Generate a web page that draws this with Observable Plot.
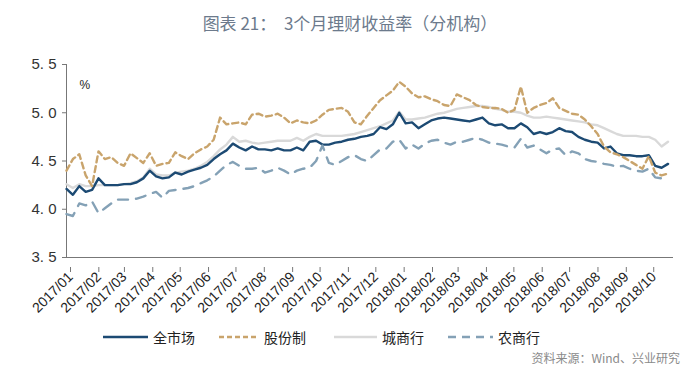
<!DOCTYPE html>
<html><head><meta charset="utf-8">
<script src="https://cdn.jsdelivr.net/npm/d3@7"></script>
<script src="https://cdn.jsdelivr.net/npm/@observablehq/plot@0.6"></script>
<style>
body{margin:0;background:#fff;width:700px;height:379px;position:relative;overflow:hidden;font-family:"Liberation Sans",Arial,sans-serif;}
#title{position:absolute;top:10px;left:0;width:700px;text-align:center;font-family:"Noto Sans CJK SC",sans-serif;font-size:17px;color:#6c7a8c;}
#chart{position:absolute;top:40px;left:0;}
.leg{position:absolute;top:328px;height:18px;display:flex;align-items:center;font-family:"Noto Sans CJK SC",sans-serif;font-size:14px;color:#222;}
#source{position:absolute;top:349px;right:20px;font-family:"Noto Sans CJK SC",sans-serif;font-size:12px;color:#8a8a8a;}
</style></head>
<body>
<div id="title">图表 21：&nbsp; 3个月理财收益率（分机构）</div>
<div id="chart"></div>
<div id="legend"></div>
<div id="source">资料来源：Wind、兴业研究</div>
<script>
const seriesNames = ["全市场", "股份制", "城商行", "农商行"];
const monthLabels = ["2017/01","2017/02","2017/03","2017/04","2017/05","2017/06","2017/07","2017/08","2017/09","2017/10","2017/11","2017/12","2018/01","2018/02","2018/03","2018/04","2018/05","2018/06","2018/07","2018/08","2018/09","2018/10"];
const yTicks = [3.5, 4.0, 4.5, 5.0, 5.5];
const firstWeek = "2017-01-01";
const lastDay = "2018-10-27";

// weekly values
const allMarket = [4.21,4.15,4.24,4.18,4.20,4.32,4.25,4.25,4.25,4.26,4.26,4.28,4.32,4.40,4.34,4.32,4.33,4.38,4.36,4.39,
  4.41,4.43,4.46,4.52,4.57,4.61,4.68,4.64,4.61,4.65,4.62,4.62,4.61,4.63,4.61,4.61,4.64,4.61,4.70,4.71,
  4.67,4.67,4.69,4.70,4.72,4.73,4.75,4.76,4.78,4.85,4.83,4.88,5.00,4.89,4.90,4.84,4.88,4.92,4.94,4.95,
  4.94,4.93,4.92,4.91,4.93,4.95,4.89,4.87,4.88,4.84,4.84,4.89,4.85,4.78,4.80,4.78,4.80,4.84,4.81,4.80,
  4.75,4.72,4.70,4.69,4.63,4.65,4.58,4.56,4.56,4.55,4.55,4.56,4.45,4.43,4.47];
const jointStock = [4.40,4.52,4.57,4.35,4.24,4.60,4.52,4.54,4.48,4.45,4.58,4.53,4.48,4.58,4.45,4.47,4.48,4.59,4.55,4.52,
  4.58,4.62,4.65,4.72,4.95,4.88,4.89,4.90,4.88,4.98,4.99,4.96,4.97,4.99,4.95,4.89,4.92,4.90,4.89,4.92,
  4.98,5.03,5.04,5.05,5.01,4.90,4.88,4.97,5.05,5.13,5.18,5.23,5.32,5.27,5.20,5.16,5.17,5.14,5.12,5.08,
  5.07,5.19,5.16,5.13,5.08,5.06,5.05,5.05,5.04,5.00,5.03,5.27,5.00,5.05,5.08,5.10,5.15,5.05,5.02,4.99,
  4.98,4.93,4.86,4.78,4.65,4.59,4.57,4.54,4.50,4.46,4.42,4.55,4.38,4.35,4.37];
const cityBank = [4.26,4.22,4.26,4.24,4.24,4.25,4.25,4.25,4.25,4.26,4.27,4.29,4.33,4.42,4.36,4.35,4.35,4.38,4.39,4.40,
  4.42,4.45,4.49,4.55,4.62,4.67,4.75,4.70,4.71,4.69,4.68,4.69,4.70,4.71,4.71,4.71,4.74,4.71,4.75,4.78,
  4.76,4.76,4.76,4.76,4.77,4.78,4.80,4.82,4.84,4.86,4.89,4.92,5.01,4.93,4.93,4.94,4.95,4.97,4.99,5.00,
  5.02,5.04,5.05,5.06,5.07,5.07,5.06,5.04,5.03,5.01,5.01,5.00,4.97,4.95,4.95,4.96,4.95,4.94,4.93,4.92,
  4.91,4.90,4.88,4.87,4.84,4.81,4.78,4.76,4.76,4.76,4.75,4.75,4.72,4.65,4.70];
const ruralBank = [3.95,3.93,4.06,4.04,4.08,3.96,4.01,4.06,4.10,4.10,4.10,4.11,4.13,4.16,4.18,4.12,4.19,4.20,4.21,4.22,
  4.24,4.27,4.30,4.34,4.40,4.46,4.49,4.45,4.42,4.42,4.43,4.38,4.40,4.43,4.40,4.36,4.40,4.42,4.43,4.50,
  4.66,4.48,4.46,4.50,4.54,4.56,4.52,4.50,4.56,4.62,4.63,4.70,4.72,4.63,4.67,4.63,4.68,4.71,4.72,4.69,
  4.67,4.70,4.70,4.72,4.74,4.72,4.69,4.68,4.67,4.65,4.64,4.73,4.64,4.66,4.62,4.58,4.62,4.63,4.56,4.60,
  4.58,4.52,4.50,4.49,4.47,4.46,4.44,4.45,4.42,4.40,4.39,4.42,4.33,4.32,4.34];

const colors = {"全市场":"#1c4a73","股份制":"#c9a46c","城商行":"#d9d9d9","农商行":"#84a1b6"};
const dashes = {"全市场":null,"股份制":"6,4","城商行":null,"农商行":"10,8"};
const seriesData = {"全市场":allMarket,"股份制":jointStock,"城商行":cityBank,"农商行":ruralBank};

const start = d3.utcParse("%Y-%m-%d")(firstWeek);
const end = d3.utcParse("%Y-%m-%d")(lastDay);
const rows = [];
for (const name of seriesNames) {
  seriesData[name].forEach((v, i) => rows.push({series: name, date: d3.utcDay.offset(start, 7 * i), value: v}));
}
const monthDates = monthLabels.map(d3.utcParse("%Y/%m"));
const drawOrder = ["城商行", "全市场", "农商行", "股份制"];

const lineMarks = drawOrder.map(name => Plot.line(rows.filter(r => r.series === name), {
  x: "date", y: "value", stroke: colors[name], strokeWidth: 2.4,
  strokeDasharray: dashes[name] || undefined, curve: "linear"
}));

const chart = Plot.plot({
  width: 700, height: 290,
  marginLeft: 66, marginRight: 27, marginTop: 24, marginBottom: 73,
  style: {fontFamily: "Liberation Sans, Arial, sans-serif", color: "#333", background: "transparent", overflow: "visible"},
  x: {type: "utc", domain: [start, end]},
  y: {domain: [3.5, 5.5]},
  marks: [
    Plot.axisY({ticks: yTicks, tickFormat: d => d.toFixed(1).replace(".", ". "), tickSize: 4, tickPadding: 6, fontSize: 15, label: null, stroke: "#777"}),
    Plot.axisX({ticks: monthDates, tickFormat: (d, i) => monthLabels[i], tickRotate: -45, tickSize: 5, tickPadding: 2, fontSize: 14, dx: 4, dy: 10, label: null, stroke: "#777", fill: "#222"}),
    Plot.ruleY([3.5], {stroke: "#777", strokeWidth: 1}),
    Plot.ruleX([start], {stroke: "#777", strokeWidth: 1}),
    ...lineMarks,
    Plot.text(["%"], {frameAnchor: "top-left", dx: 13, dy: 16, fontSize: 12, fill: "#222"})
  ]
});
document.getElementById("chart").appendChild(chart);

// legend
const legendPos = {"全市场":[103,45],"股份制":[219,40],"城商行":[334,43],"农商行":[448,45]};
const legend = document.getElementById("legend");
for (const name of seriesNames) {
  const [left, w] = legendPos[name];
  const item = document.createElement("div");
  item.className = "leg";
  item.style.left = left + "px";
  const dash = dashes[name] ? ` stroke-dasharray="${name === "股份制" ? "5,3" : "8,6"}"` : "";
  item.innerHTML = `<svg width="${w}" height="6" style="margin-right:5px"><line x1="0" y1="3" x2="${w}" y2="3" stroke="${colors[name]}" stroke-width="2.5"${dash}/></svg><span>${name}</span>`;
  legend.appendChild(item);
}
</script>
</body></html>
